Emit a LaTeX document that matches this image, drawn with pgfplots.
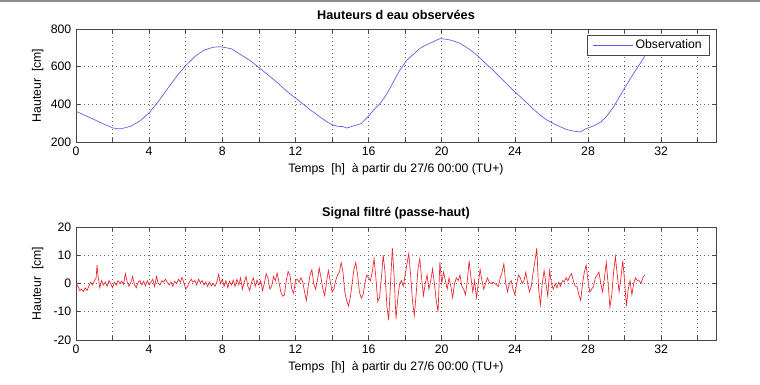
\documentclass[border=0pt]{standalone}
\usepackage{fontspec}
\setmainfont{Liberation Sans}
\usepackage{pgfplots}
\pgfplotsset{compat=1.18}
\definecolor{obsblue}{RGB}{90,90,235}
\definecolor{sigred}{RGB}{235,35,45}
\definecolor{axgray}{RGB}{70,70,70}
\pgfplotsset{
  common/.style={
    anchor=south west, scale only axis, width=480pt, height=84.75pt,
    xmin=0, xmax=35,
    xtick={0,2,...,34},
    xticklabels={0,,4,,8,,12,,16,,20,,24,,28,,32,},
    tick align=inside, tick pos=both,
    major tick length=3pt,
    xmajorgrids, ymajorgrids,
    grid style={black!60, line width=0.4pt, dash pattern=on 0.6pt off 2.4pt},
    axis line style={axgray, line width=0.5pt},
    every tick/.style={axgray, line width=0.5pt},
    tick label style={font=\fontsize{9.2}{10}\selectfont, text=black},
    label style={font=\fontsize{9.2}{10}\selectfont},
    title style={font=\bfseries\fontsize{9.5}{11}\selectfont, at={(axis description cs:0.5,1)}, anchor=center, yshift=4.5pt},
    xlabel={Temps\ \ [h]\ \ à partir du 27/6 00:00 (TU+)},
    xlabel style={at={(axis description cs:0.5,-0.245)}, anchor=center},
    ylabel={Hauteur\ \ [cm]},
    ylabel style={at={(axis description cs:-0.06,0.5)}, anchor=center, rotate=0},
  }
}
\begin{document}
\begin{tikzpicture}[x=1pt,y=1pt]
\useasboundingbox (0,0) rectangle (570,288.75);
\draw[black!45, line width=1.3pt] (0,288.1) -- (570,288.1);
\begin{axis}[common, at={(57pt,182.25pt)},
  ymin=200, ymax=800, ytick={200,400,600,800},
  yticklabels={200,400,600,800},
  title={Hauteurs d eau observées},
  legend style={at={(axis description cs:1,1)}, anchor=north east, xshift=-4.5pt, yshift=-4.5pt,
    draw=axgray, fill=white, font=\fontsize{9.2}{10}\selectfont, inner xsep=4pt, inner ysep=1.5pt,
    legend cell align=left},
  legend image code/.code={\pgfsetstrokecolor{obsblue}\draw[obsblue, draw=obsblue, line width=0.6pt] (0pt,0pt) -- (30pt,0pt);},
]
\addplot[obsblue, line width=0.5pt] coordinates {
(0,363) (0.5,341) (1,319) (1.5,296) (2,275) (2.3,270) (2.5,271) (3,284) (3.5,312)
(4,355) (4.5,415) (5,482) (5.5,548) (6,606) (6.5,654) (7,688) (7.5,703) (7.9,706)
(8.5,695) (9,664) (9.5,634) (10,596) (10.5,556) (11,516) (11.5,472) (11.8,448) (12,434)
(12.3,410) (12.5,396) (12.8,370) (13,358) (13.3,336) (13.5,322) (13.8,302) (14,293)
(14.3,283) (14.6,282) (14.8,274) (15,280) (15.3,289) (15.6,298) (15.8,318) (16,338)
(16.3,372) (16.63,404) (17,455) (17.36,520) (17.7,580) (18.1,635) (18.5,670) (18.8,697)
(19.2,718) (19.55,733) (19.9,749) (20.3,745) (20.6,738) (21,724) (21.35,703) (21.7,679)
(22,655) (22.4,617) (22.8,582) (23.2,543) (23.55,510) (23.9,475) (24.3,440) (24.7,404)
(25,375) (25.4,342) (25.7,320) (26.1,298) (26.5,280) (26.84,266) (27.2,258) (27.57,253)
(27.9,271) (28.3,285) (28.7,306) (29,335) (29.4,386) (29.75,445) (30.1,502) (30.5,565)
(30.85,617) (31.1,655)
};
\addlegendentry{Observation}
\end{axis}
\begin{axis}[common, at={(57pt,33.75pt)},
  ymin=-20, ymax=20, ytick={-20,-10,0,10,20},
  yticklabels={-20,-10,0,10,20},
  title={Signal filtré (passe-haut)},
]
\addplot[sigred, line width=0.5pt] coordinates {
(0.0,0) (0.1,-1) (0.2,-2.5) (0.3,-2) (0.4,-2.8) (0.5,-1.5) (0.6,-2.5) (0.7,-1) (0.8,0.5) (0.9,-0.5)
(1.0,0.8) (1.1,2) (1.15,6.5) (1.2,3) (1.3,-1.5) (1.4,1) (1.5,-0.5) (1.6,0.5) (1.7,-1) (1.8,1) (1.9,0)
(2.0,-1.5) (2.1,0.5) (2.2,-0.5) (2.3,1) (2.4,0) (2.5,0.8) (2.6,-0.3) (2.7,3.5) (2.8,0.5) (2.9,-1)
(3.0,0.5) (3.1,2.5) (3.2,-0.5) (3.3,-1.5) (3.4,0.5) (3.5,1) (3.6,-0.5) (3.7,0.8) (3.8,-0.8) (3.9,1)
(4.0,-0.5) (4.1,0.5) (4.2,1.5) (4.3,-1) (4.4,2.5) (4.5,0) (4.6,-0.5) (4.7,1) (4.8,0.5) (4.9,1.5)
(5.0,0.3) (5.1,-0.5) (5.2,0.5) (5.3,-1) (5.4,0.8) (5.5,0) (5.6,1.5) (5.7,0.5) (5.8,2.2) (5.9,0.2)
(6.0,-2) (6.1,-1) (6.2,0.5) (6.3,1.5) (6.4,0.5) (6.5,1) (6.6,-0.5) (6.7,1.5) (6.8,0.3) (6.9,1)
(7.0,-0.5) (7.1,0.5) (7.2,-1) (7.3,0.5) (7.4,-0.8) (7.5,0) (7.6,-1) (7.7,0.5) (7.8,3.2) (7.9,0)
(8.0,1.5) (8.1,-1) (8.2,1) (8.3,-1.5) (8.4,0.8) (8.5,-0.5) (8.6,1.2) (8.7,-1) (8.8,1.5) (8.9,-0.5)
(9.0,2) (9.1,-2) (9.2,0.5) (9.3,2.5) (9.4,-1) (9.5,-2.5) (9.6,0.5) (9.7,2) (9.8,-1) (9.9,1.2)
(10.0,-0.5) (10.1,1) (10.2,-2.5) (10.3,0) (10.4,3.5) (10.5,2) (10.6,-2) (10.7,-1) (10.8,2.5) (10.9,1)
(11.0,3.7) (11.1,0.5) (11.2,-3) (11.3,-4.5) (11.4,-4) (11.5,1) (11.6,4.3) (11.7,3) (11.8,-2) (11.9,-3.5)
(12.0,1) (12.1,1.5) (12.2,0.5) (12.3,2) (12.4,0.5) (12.5,-3) (12.6,-6) (12.7,-1) (12.8,3) (12.9,4.9)
(13.0,0) (13.1,-2) (13.2,1) (13.3,5.5) (13.4,2) (13.5,-2) (13.6,-4.3) (13.7,0.5) (13.8,4.6) (13.9,1)
(14.0,-3) (14.1,-2) (14.2,1) (14.3,3) (14.4,4) (14.5,7.4) (14.6,4) (14.7,-3) (14.8,-6) (14.9,-7.9)
(15.0,-5) (15.1,0) (15.2,5) (15.3,7.4) (15.4,3) (15.5,-3) (15.6,-5.2) (15.7,-4) (15.8,0) (15.9,3)
(16.0,2) (16.1,1) (16.2,4) (16.3,8.8) (16.4,2) (16.5,-6.4) (16.6,-5) (16.7,2) (16.8,10) (16.9,4)
(17.0,-8) (17.1,-13) (17.2,0) (17.3,12.6) (17.4,2) (17.5,-12.5) (17.6,-5) (17.7,0) (17.8,1) (17.9,-1)
(18.0,3) (18.1,7) (18.2,10.6) (18.3,3) (18.4,-6) (18.5,-11.4) (18.6,-4) (18.7,5) (18.8,8.8) (18.9,2)
(19.0,-4.3) (19.1,0) (19.2,3) (19.3,-2) (19.4,1) (19.5,5.2) (19.6,0) (19.7,-6) (19.8,-10) (19.9,7.6)
(20.0,0) (20.1,4) (20.2,1) (20.3,-2) (20.4,2) (20.5,-1) (20.6,-5) (20.7,0) (20.8,2) (20.9,1)
(21.0,3) (21.1,-1) (21.2,-2) (21.3,-4) (21.4,1) (21.5,8) (21.6,2) (21.7,-3) (21.8,1) (21.9,-5)
(22.0,0) (22.1,5) (22.2,1) (22.3,-2) (22.4,0) (22.5,2) (22.6,0.5) (22.7,0) (22.8,0.5) (22.9,0)
(23.0,-0.5) (23.1,-1) (23.2,2) (23.3,4) (23.4,7) (23.5,0) (23.6,-3) (23.7,0) (23.8,1) (23.9,-2)
(24.0,-4) (24.1,0) (24.2,3) (24.3,2) (24.4,0) (24.5,1) (24.6,4) (24.7,0) (24.8,-3) (24.9,-1)
(25.0,4) (25.1,8) (25.2,12.5) (25.3,-2) (25.4,-7.5) (25.5,0) (25.6,4.6) (25.7,0) (25.8,-4.5) (25.9,4.6)
(26.0,0) (26.1,-2) (26.2,0) (26.3,-1.5) (26.4,0.5) (26.5,-1) (26.6,1) (26.7,0.5) (26.8,2) (26.9,1)
(27.0,2.5) (27.1,3.5) (27.2,1) (27.3,-1) (27.4,-1) (27.5,-4) (27.6,-6) (27.7,0) (27.8,4) (27.9,6.5)
(28.0,1) (28.1,-3) (28.2,-2) (28.3,-1) (28.4,2) (28.5,3) (28.6,4) (28.7,0) (28.8,-3) (28.9,2)
(29.0,7.5) (29.1,0) (29.2,-8.5) (29.3,-4) (29.4,4) (29.5,9.5) (29.6,3) (29.7,-3) (29.8,2) (29.9,8)
(30.0,1) (30.1,-8) (30.2,-2) (30.3,1) (30.4,-4) (30.5,0) (30.6,2) (30.7,1) (30.8,1) (30.9,0)
(31.0,2) (31.1,3)
};
\end{axis}
\end{tikzpicture}
\end{document}
